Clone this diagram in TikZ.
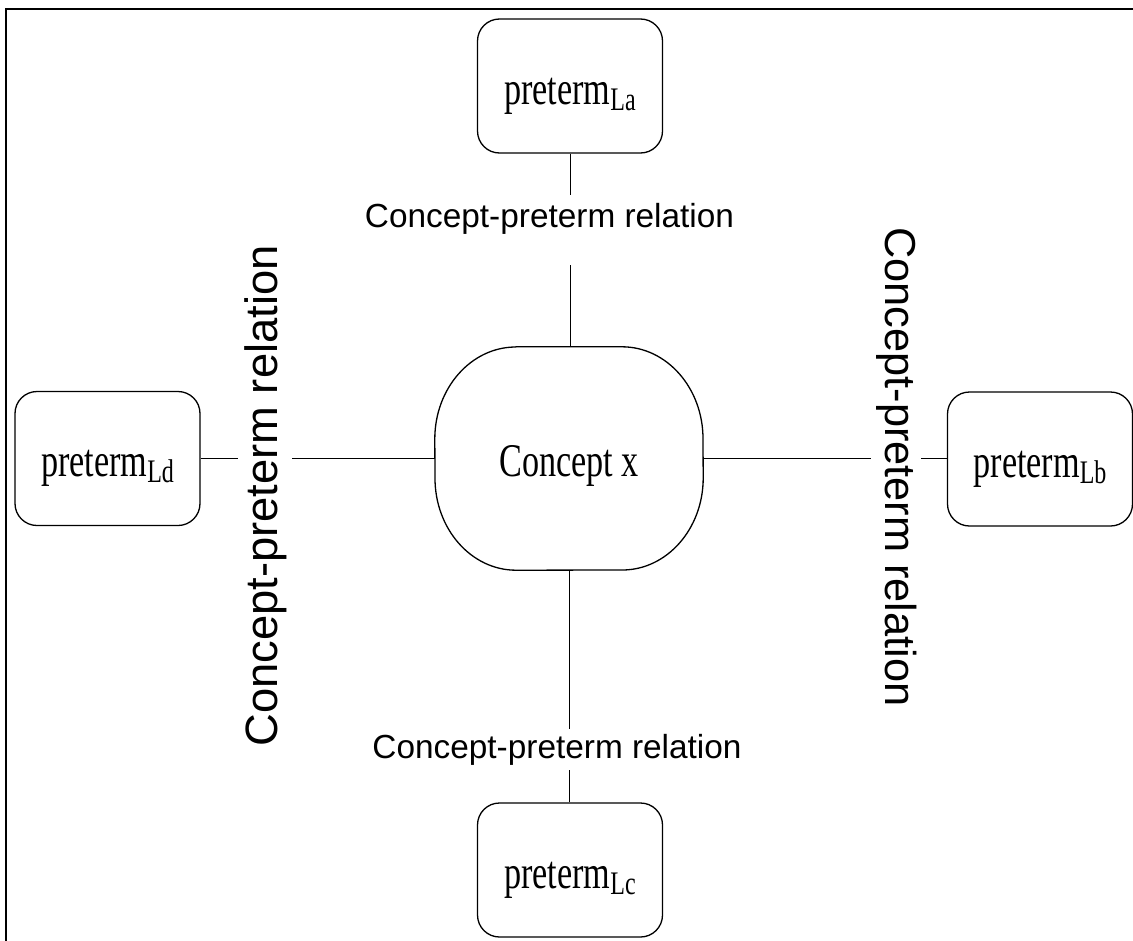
\documentclass[tikz,border=0pt]{standalone}
\usepackage{fontspec}
\usepackage{graphicx}
\setmainfont{Liberation Serif}
\newfontfamily\relfont{Liberation Sans}

% condensed serif term with a lowered subscript
\newcommand\pterm[1]{\scalebox{0.73}[1]{preterm\raisebox{-6bp}{\fontsize{33}{33}\selectfont #1}}}

\tikzset{
  termbox/.style={draw, line width=1.3bp, rounded corners=22bp,
    minimum width=185bp, minimum height=134bp, inner sep=0pt,
    text height=46bp, text depth=10bp, font=\fontsize{47}{50}\selectfont},
  conceptbox/.style={minimum width=268bp, minimum height=223bp, inner sep=0pt,
    text height=45bp, text depth=10bp, font=\fontsize{47}{50}\selectfont},
  outline/.style={line width=1.3bp},
  link/.style={line width=1bp},
  relation/.style={fill=white, inner xsep=4bp, inner ysep=8bp, anchor=base},
}

\begin{document}
\begin{tikzpicture}[x=1bp, y=-1bp]
  \useasboundingbox (0,0) rectangle (1133,941);
  % frame
  \draw[line width=2bp] (6,941) -- (6,9) -- (1133,9);

  % central concept: a box with elliptic corners
  \node[conceptbox] (cx) at (569,458.5) {\scalebox{0.73}[1]{Concept x}};
  \draw[outline] ([xshift=-53bp]cx.north) -- ([xshift=53bp]cx.north)
    arc[start angle=90, end angle=0, x radius=81bp, y radius=92bp]
    -- ([yshift=-19.5bp]cx.east)
    arc[start angle=0, end angle=-90, x radius=81bp, y radius=92bp]
    -- ([xshift=-53bp]cx.south)
    arc[start angle=-90, end angle=-180, x radius=81bp, y radius=92bp]
    -- ([yshift=19.5bp]cx.west)
    arc[start angle=180, end angle=90, x radius=81bp, y radius=92bp]
    -- cycle;

  % the four terms
  \node[termbox] (la) at (570,86)    {\pterm{La}};
  \node[termbox] (lb) at (1040,459)  {\pterm{Lb}};
  \node[termbox] (lc) at (570,870)   {\pterm{Lc}};
  \node[termbox] (ld) at (107.5,458.5) {\pterm{Ld}};

  % relations
  \draw[link] (la.south) -- (la.south |- cx.north);
  \draw[link] (cx.south) -- (cx.south |- lc.north);
  \draw[link] (ld.east) -- (ld.east -| cx.west);
  \draw[link] (cx.east) -- (cx.east -| lb.west);

  \node[relation, text depth=30bp, font=\relfont\fontsize{33.5}{36}\selectfont]
    (ra) at (549.5,227) {Concept-preterm relation};
  \node[relation, inner ysep=5bp, font=\relfont\fontsize{33.5}{36}\selectfont]
    (rc) at (557,758) {Concept-preterm relation};
  \node[relation, rotate=90, inner ysep=6bp, font=\relfont\fontsize{45.5}{48}\selectfont]
    (rd) at (277,496) {Concept-preterm relation};
  \node[relation, rotate=-90, inner ysep=5bp, font=\relfont\fontsize{43.5}{46}\selectfont]
    (rb) at (885,467) {Concept-preterm relation};
\end{tikzpicture}
\end{document}
